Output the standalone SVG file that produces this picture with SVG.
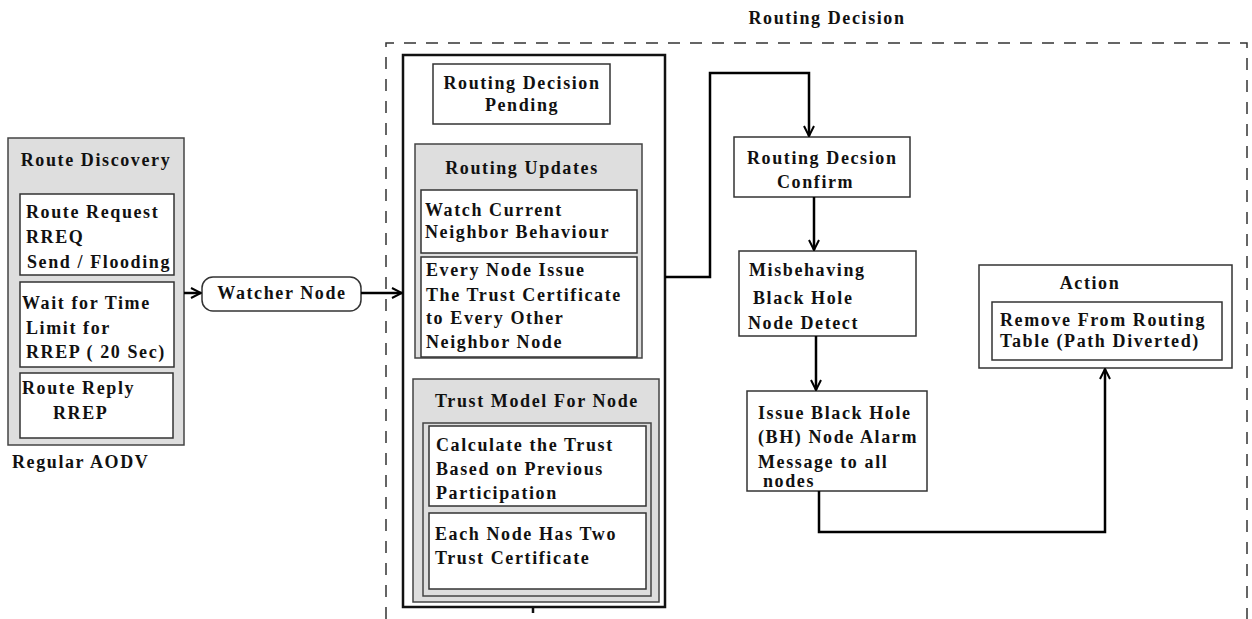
<svg xmlns="http://www.w3.org/2000/svg" width="1252" height="619" viewBox="0 0 1252 619">
<defs>
<marker id="arr" viewBox="0 0 12 12" refX="11" refY="6" markerWidth="12" markerHeight="12" markerUnits="userSpaceOnUse" orient="auto">
<path d="M1,1 L11,6 L1,11" fill="none" stroke="#000" stroke-width="2"/>
</marker>
<style>
text{font-family:"Liberation Serif","Times New Roman",serif;font-weight:bold;font-size:18px;letter-spacing:1.6px;fill:#111}
.c{text-anchor:middle}
.box{fill:#fff;stroke:#333;stroke-width:1.5}
.grey{fill:#dedede;stroke:#444;stroke-width:1.5}
.frame{fill:none;stroke:#444;stroke-width:1.5}
.thick{fill:#fff;stroke:#111;stroke-width:2.5}
.conn{fill:none;stroke:#000;stroke-width:2.5}
.dash{fill:none;stroke:#333;stroke-width:1.5;stroke-dasharray:12 10}
</style>
</defs>
<rect width="1252" height="619" fill="#fff"/>

<g id="routing-decision-frame">
<path class="dash" d="M386,619 V43 H1247 V619"/>
<text class="c" x="827" y="24">Routing Decision</text>
</g>

<g id="route-discovery">
<rect class="grey" x="8" y="138" width="176" height="307"/>
<text class="c" x="96" y="166">Route Discovery</text>
<rect class="box" x="20" y="194" width="154" height="81"/>
<text x="26" y="218">Route Request</text>
<text x="26" y="243">RREQ</text>
<text x="27" y="268">Send / Flooding</text>
<rect class="box" x="20" y="282" width="154" height="85"/>
<text x="22" y="309">Wait for Time</text>
<text x="26" y="334">Limit for</text>
<text x="26" y="358">RREP ( 20 Sec)</text>
<rect class="box" x="20" y="373" width="153" height="65"/>
<text x="22" y="394">Route Reply</text>
<text x="53" y="419">RREP</text>
</g>

<g id="regular-aodv">
<text x="12" y="468">Regular AODV</text>
</g>

<g id="watcher-node">
<rect class="box" x="202" y="277" width="159" height="34" rx="11"/>
<text class="c" x="282" y="299">Watcher Node</text>
</g>

<g id="decision-block">
<rect class="thick" x="403" y="55" width="262" height="552"/>
<line x1="533" y1="607" x2="533" y2="613" stroke="#111" stroke-width="2.5"/>
</g>

<g id="routing-decision-pending">
<rect class="box" x="433" y="64" width="177" height="60"/>
<text class="c" x="522" y="89">Routing Decision</text>
<text class="c" x="522" y="111">Pending</text>
</g>

<g id="routing-updates">
<rect class="grey" x="415" y="144" width="227" height="214"/>
<text class="c" x="522" y="174">Routing Updates</text>
<rect class="box" x="421" y="190" width="216" height="63"/>
<text x="425" y="216">Watch Current</text>
<text x="425" y="238">Neighbor Behaviour</text>
<rect class="box" x="421" y="257" width="216" height="100"/>
<text x="426" y="276">Every Node Issue</text>
<text x="426" y="301">The Trust Certificate</text>
<text x="426" y="324">to Every Other</text>
<text x="426" y="348">Neighbor Node</text>
</g>

<g id="trust-model">
<rect class="grey" x="413" y="379" width="246" height="223"/>
<text class="c" x="537" y="407">Trust Model For Node</text>
<rect class="frame" x="423" y="423" width="228" height="173"/>
<rect class="box" x="429" y="426" width="217" height="80"/>
<text x="436" y="451">Calculate the Trust</text>
<text x="436" y="475">Based on Previous</text>
<text x="436" y="499">Participation</text>
<rect class="box" x="429" y="513" width="217" height="76"/>
<text x="435" y="540">Each Node Has Two</text>
<text x="435" y="564">Trust Certificate</text>
</g>

<g id="routing-decision-confirm">
<rect class="box" x="734" y="137" width="176" height="60"/>
<text x="747" y="164">Routing Decsion</text>
<text x="777" y="188">Confirm</text>
</g>

<g id="misbehaving">
<rect class="box" x="739" y="251" width="177" height="85"/>
<text x="749" y="276">Misbehaving</text>
<text x="753" y="304">Black Hole</text>
<text x="748" y="329">Node Detect</text>
</g>

<g id="issue-alarm">
<rect class="box" x="747" y="391" width="180" height="100"/>
<text x="758" y="419">Issue Black Hole</text>
<text x="758" y="443">(BH) Node Alarm</text>
<text x="758" y="468">Message to all</text>
<text x="763" y="487">nodes</text>
</g>

<g id="action">
<rect class="box" x="979" y="265" width="253" height="103"/>
<text class="c" x="1090" y="289">Action</text>
<rect class="box" x="992" y="302" width="230" height="58"/>
<text x="1000" y="326">Remove From Routing</text>
<text x="1000" y="347">Table (Path Diverted)</text>
</g>

<g id="connectors">
<line class="conn" x1="184" y1="293" x2="201" y2="293" marker-end="url(#arr)"/>
<line class="conn" x1="361" y1="293" x2="402" y2="293" marker-end="url(#arr)"/>
<path class="conn" d="M665,277 H710 V73 H809 V136" marker-end="url(#arr)"/>
<line class="conn" x1="814" y1="197" x2="814" y2="250" marker-end="url(#arr)"/>
<line class="conn" x1="816" y1="336" x2="816" y2="390" marker-end="url(#arr)"/>
<path class="conn" d="M819,491 V532 H1105 V369" marker-end="url(#arr)"/>
</g>
</svg>
